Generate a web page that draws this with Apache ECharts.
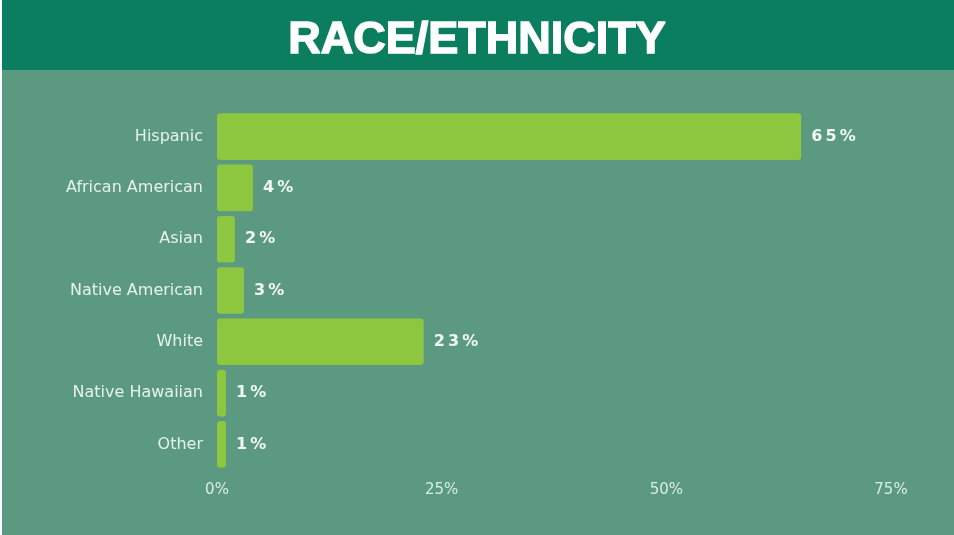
<!DOCTYPE html>
<html>
<head>
<meta charset="utf-8">
<script src="https://cdn.jsdelivr.net/npm/echarts@6/dist/echarts.min.js"></script>
<style>
  html, body { margin: 0; padding: 0; background: #ffffff; }
  #chart { width: 954px; height: 535px; }
</style>
</head>
<body>
<div id="chart"></div>
<script>
// Share of students by race/ethnicity (percent)
const categories = ['Hispanic', 'African American', 'Asian', 'Native American', 'White', 'Native Hawaiian', 'Other'];
const shares = [65, 4, 2, 3, 23, 1, 1];
const axisTicks = [0, 25, 50, 75];

const chart = echarts.init(document.getElementById('chart'));

// Spread the digits of value labels apart with thin spaces
const spaced = v => (String(v) + '%').split('').join('\u2009');

chart.setOption({
  backgroundColor: '#5b9a80',
  animation: false,
  graphic: [
    { type: 'rect', shape: { x: 0, y: 0, width: 954, height: 70 }, style: { fill: '#0b7e5f' }, z: 0 },
    { type: 'rect', shape: { x: 0, y: 0, width: 2, height: 535 }, style: { fill: '#ffffff' }, z: 1 },
    {
      type: 'text', left: 'center', top: 17, z: 2,
      style: {
        text: 'RACE/ETHNICITY',
        fill: '#ffffff',
        stroke: '#ffffff',
        lineWidth: 1.5,
        font: 'bold 45px "Liberation Sans", Arial, sans-serif'
      }
    }
  ],
  grid: { left: 217, right: 63, top: 111, bottom: 65, containLabel: false },
  xAxis: {
    type: 'value',
    min: axisTicks[0],
    max: axisTicks[axisTicks.length - 1],
    interval: axisTicks[1] - axisTicks[0],
    axisLine: { show: false },
    axisTick: { show: false },
    splitLine: { show: false },
    axisLabel: {
      formatter: v => v + '%',
      color: '#d8ede1',
      fontFamily: 'DejaVu Sans',
      fontSize: 15,
      margin: 13
    }
  },
  yAxis: {
    type: 'category',
    data: categories,
    inverse: true,
    axisLine: { show: false },
    axisTick: { show: false },
    splitLine: { show: false },
    axisLabel: {
      color: '#e6f3ea',
      fontFamily: 'DejaVu Sans',
      fontSize: 16,
      margin: 14
    }
  },
  series: [{
    type: 'bar',
    data: shares,
    barCategoryGap: '9%',
    itemStyle: { color: '#8dc63f', borderRadius: 3 },
    label: {
      show: true,
      position: 'right',
      distance: 10,
      formatter: p => spaced(p.value),
      color: '#f2f8f2',
      fontFamily: 'DejaVu Sans',
      fontWeight: 'bold',
      fontSize: 16
    }
  }]
});
</script>
</body>
</html>
